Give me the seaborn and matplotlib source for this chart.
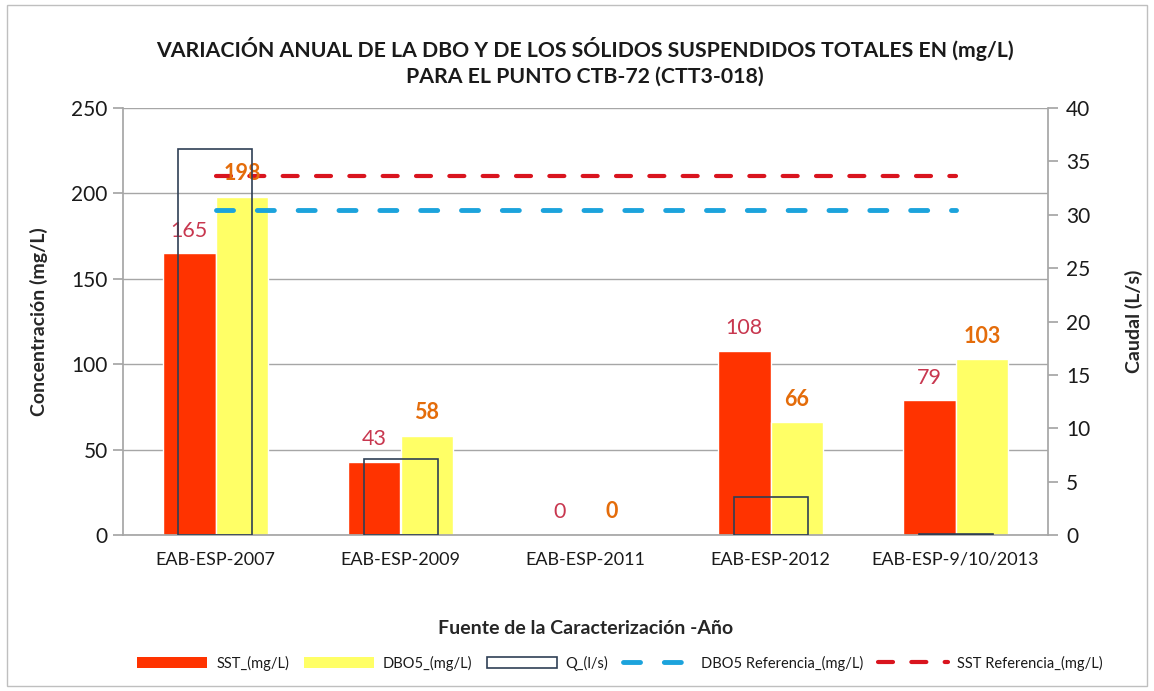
import matplotlib
matplotlib.use('Agg')
import matplotlib.pyplot as plt
from matplotlib.patches import Patch, Rectangle
from matplotlib.lines import Line2D
import numpy as np
import pandas as pd
import seaborn as sns

# datos
fuentes = ['EAB-ESP-2007', 'EAB-ESP-2009', 'EAB-ESP-2011', 'EAB-ESP-2012', 'EAB-ESP-9/10/2013']
sst = [165, 43, 0, 108, 79]
dbo5 = [198, 58, 0, 66, 103]
caudal = [36.2, 7.1, np.nan, 3.6, 0.1]   # 2011 sin dato de caudal
dbo5_ref = [190, 190, 190, 190, 190]
sst_ref = [210, 210, 210, 210, 210]

c_sst = '#FF3300'
c_dbo = '#FFFF66'
c_q = '#2F3F55'
c_dbo_ref = '#1CA3DC'
c_sst_ref = '#D9141E'
c_lbl_sst = '#C8374F'
c_lbl_dbo = '#E46C0A'
gris = '#A6A6A6'

sns.set_theme(style='white')
plt.rcParams['font.family'] = ['Lato', 'DejaVu Sans']
plt.rcParams['text.color'] = '#1A1A1A'
plt.rcParams['xtick.color'] = '#1A1A1A'
plt.rcParams['ytick.color'] = '#1A1A1A'

df = pd.DataFrame({
    'fuente': fuentes * 2,
    'serie': ['SST_(mg/L)'] * len(sst) + ['DBO5_(mg/L)'] * len(dbo5),
    'valor': sst + dbo5,
})

fig = plt.figure(figsize=(11.54, 6.91), dpi=100)
ax1 = fig.add_axes([123 / 1154, 1 - 535 / 691, 925 / 1154, 427 / 691])

sns.barplot(data=df, x='fuente', y='valor', hue='serie', palette=[c_sst, c_dbo],
            order=fuentes, width=0.57, saturation=1, errorbar=None, legend=False, ax=ax1)

# etiquetas de datos
ax1.bar_label(ax1.containers[0], fmt='%g', padding=9, color=c_lbl_sst, fontsize=15.5)
ax1.bar_label(ax1.containers[1], fmt='%g', padding=9, color=c_lbl_dbo, fontsize=15.5,
              fontweight='bold')

# lineas de referencia
sns.lineplot(x=np.arange(len(fuentes)), y=dbo5_ref, ax=ax1, color=c_dbo_ref, lw=3.5,
             linestyle=(0, (3.5, 4.9)), dash_capstyle='round')
sns.lineplot(x=np.arange(len(fuentes)), y=sst_ref, ax=ax1, color=c_sst_ref, lw=3,
             linestyle=(0, (3.6, 4.4)), dash_capstyle='round')

ax1.set_ylim(0, 250)
ax1.set_yticks(np.arange(0, 251, 50))
ax1.set_xlim(-0.5, len(fuentes) - 0.5)
ax1.yaxis.grid(True, color=gris, lw=1)
ax1.set_axisbelow(True)

# caudal en eje secundario
ax2 = ax1.twinx()
sns.barplot(x=fuentes, y=caudal, order=fuentes, ax=ax2, fill=False, color=c_q,
            width=0.40, linewidth=1.2, errorbar=None)
ax2.set_ylim(0, 40)
ax2.set_yticks(np.arange(0, 41, 5))
ax2.set_xlim(-0.5, len(fuentes) - 0.5)

for s in ['top', 'right']:
    ax1.spines[s].set_visible(False)
for s in ['top', 'left', 'bottom']:
    ax2.spines[s].set_visible(False)
for s in ['left', 'bottom']:
    ax1.spines[s].set_color(gris)
ax2.spines['right'].set_color(gris)

ax1.tick_params(axis='y', length=7, color=gris, labelsize=15, pad=4, left=True)
ax1.tick_params(axis='x', length=0, labelsize=13, pad=12)
ax2.tick_params(axis='y', length=7, color=gris, labelsize=15, pad=6, right=True)

ax1.set_ylabel('Concentración (mg/L)', fontsize=14, fontweight='bold')
ax1.yaxis.set_label_coords(-0.081, 0.5)
ax2.set_ylabel('Caudal (L/s)', fontsize=14, fontweight='bold')
ax2.yaxis.set_label_coords(1.083, 0.5)
ax1.set_xlabel('Fuente de la Caracterización -Año', fontsize=14, fontweight='bold')
ax1.xaxis.set_label_coords(0.5, -0.2)
ax2.set_xlabel('')

fig.text(585 / 1154, 1 - 62 / 691,
         'VARIACIÓN ANUAL DE LA DBO Y DE LOS SÓLIDOS SUSPENDIDOS TOTALES EN (mg/L)\n'
         'PARA EL PUNTO CTB-72 (CTT3-018)',
         ha='center', va='center', fontsize=15.3, fontweight='bold', linespacing=1.35)

handles = [
    Patch(facecolor=c_sst, edgecolor='none', label='SST_(mg/L)'),
    Patch(facecolor=c_dbo, edgecolor='none', label='DBO5_(mg/L)'),
    Patch(facecolor='none', edgecolor=c_q, lw=1.2, label='Q_(l/s)'),
    Line2D([], [], color=c_dbo_ref, lw=3.5, linestyle=(0, (3.5, 4.9)),
           dash_capstyle='round', label='DBO5 Referencia_(mg/L)'),
    Line2D([], [], color=c_sst_ref, lw=3, linestyle=(0, (3.6, 4.4)),
           dash_capstyle='round', label='SST Referencia_(mg/L)'),
]
fig.legend(handles=handles, loc='center', bbox_to_anchor=(620 / 1154, 1 - 663 / 691),
           ncol=5, frameon=False, fontsize=10.5, handlelength=4.8, handleheight=0.7,
           columnspacing=1.0, handletextpad=0.6)

fig.patches.append(Rectangle((7 / 1154, 5 / 691), 1 - 14 / 1154, 1 - 10 / 691,
                             transform=fig.transFigure, fill=False,
                             edgecolor='#BFBFBF', lw=1))

fig.savefig('out.png', dpi=100)
